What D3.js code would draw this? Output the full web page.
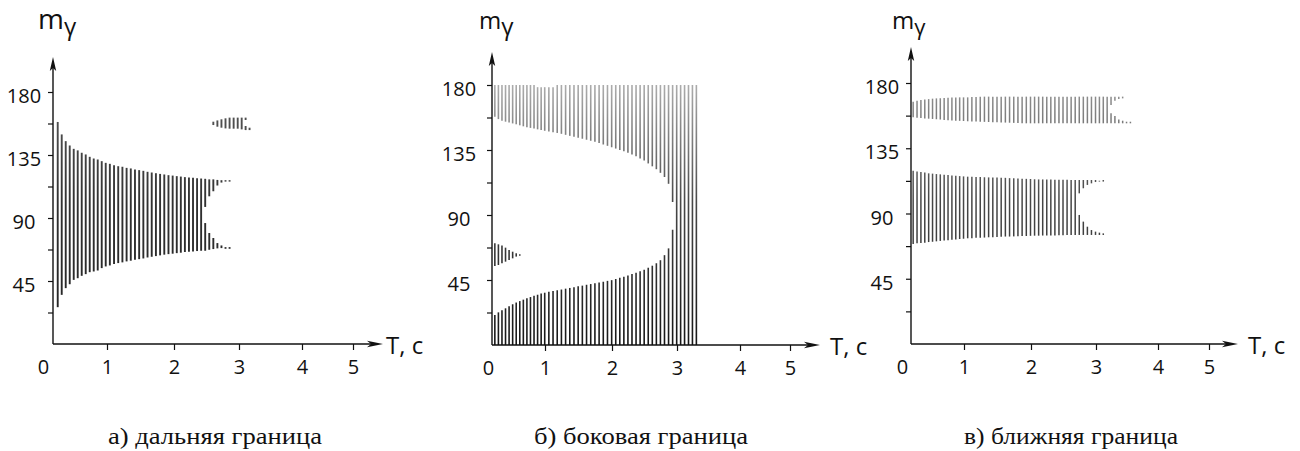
<!DOCTYPE html>
<html>
<head>
<meta charset="utf-8">
<script src="https://cdn.jsdelivr.net/npm/d3@7"></script>
<style>
  html, body { margin: 0; padding: 0; background: #ffffff; }
  svg { display: block; }
</style>
</head>
<body>
<svg id="chart" width="1300" height="451"></svg>
<script>
// ---------------- DATA ----------------
const xTicks = [0, 1, 2, 3, 4, 5];
const yTicks = [22.5, 45, 67.5, 90, 112.5, 135, 157.5, 180];
const yLabels = [45, 90, 135, 180];
const yAxisTitle = ["m", "γ"];
const xAxisTitle = "Т, с";
const captions = ["а) дальняя граница", "б) боковая граница", "в) ближняя граница"];
const dT = 0.0625;            // sampling step of the hatch bars, s

// panel а) — far boundary
const aT0 = 0.23;
const aMainHi = [158.6,149.7,144.9,141.8,139.4,138.3,136.6,135.4,133.7,132.5,131.8,130.6,129.4,128.7,127.7,127.0,126.6,125.8,125.4,124.6,124.2,123.7,123.0,122.5,122.0,121.5,121.1,120.6,120.3,119.9,119.6,119.2,118.9,118.7,118.4,118.2,118.0,117.6,117.6,117.2,117.0,117.0,117.0];
const aMainLo = [26.3,35.1,39.9,42.7,45.8,47.0,48.7,49.9,51.3,51.8,52.5,54.2,55.4,56.1,57.1,57.8,58.3,59.0,59.5,60.2,60.6,61.1,61.8,62.3,62.8,63.3,63.8,64.2,64.5,64.9,65.2,65.7,65.9,66.1,66.4,66.6,66.6,67.3,67.8,68.3,68.5,68.0,68.0];
const aMainGapFrom = 36;
const aMainGapUpper = [97.9,105.5,109.1,113.2,115.3,116.0,116.0];
const aMainGapLower = [86.4,79.3,75.7,72.1,70.4,69.2,69.2];
const aPatchFrom = 38;
const aPatchHi = [158.8,159.7,160.5,161.2,161.7,161.7,161.7,161.7,161.7,154.5];
const aPatchLo = [156.4,155.2,154.5,154.0,153.8,153.8,153.8,153.3,152.8,152.8];
const aPatchGapFrom = 46;
const aPatchGapUpper = [160.0];
const aPatchGapLower = [155.7];

// panel б) — side boundary
const bT0 = 0.12;
const bTopHi = [180,180,180,180,180,180,180,180,180,180,180,180,178.5,178.5,178.5,178.5,178.5,180,180,180,180,180,180,180,180,180,180,180,180,180,180,180,180,180,180,180,180,180,180,180,180,180,180,180,180,180];
const bTopLo = [158.1,156.4,155.3,154.6,154.0,153.4,152.8,152.1,151.4,150.7,150.3,149.8,149.3,148.8,148.3,147.8,147.3,146.8,146.2,145.5,144.8,144.2,143.5,142.8,142.1,141.4,140.7,139.8,138.8,137.9,136.9,136.0,135.0,134.1,133.1,131.9,130.6,129.2,127.8,125.7,123.7,121.7,119.2,116.3,111.6,99.0];
const bBottomHi = [20.8,22.6,24.1,25.4,26.8,28.2,29.4,30.4,31.4,32.4,33.2,34.1,34.8,35.7,36.2,36.8,37.3,37.9,38.4,39.0,39.5,40.0,40.6,41.1,41.7,42.2,42.7,43.3,43.8,44.4,44.9,45.7,46.5,47.3,48.1,49.1,50.1,51.1,52.1,53.5,54.9,56.6,58.7,62.2,66.9,79.8,180,180,180,180,180,180];
const bBottomLo = 0;
const bPatchHi = [70.4,69.7,68.8,67.4,65.8,64.6,63.5,62.8];
const bPatchLo = [54.7,55.4,56.6,57.7,58.9,60.0,61.2,61.8];

// panel в) — near boundary
const cT0 = 0.18;
const cTopHi = [167.1,167.8,168.3,168.7,168.9,169.2,169.4,169.5,169.7,169.9,170.0,170.0,170.1,170.1,170.1,170.3,170.4,170.6,170.6,170.6,170.6,170.6,170.6,170.6,170.6,170.6,170.6,170.6,170.6,170.6,170.6,170.6,170.6,170.6,170.6,170.6,170.6,170.6,170.6,170.6,170.6,170.6,170.6,170.6,170.6,170.6,170.6,170.6,170.6,170.6,170.6,170.6,170.6,153.3,153.3];
const cTopLo = [156.3,156.1,155.9,155.6,155.4,155.2,155.0,154.8,154.5,154.3,154.1,154.0,153.9,153.8,153.6,153.5,153.4,153.3,153.2,153.1,153.0,152.9,152.8,152.7,152.6,152.5,152.4,152.3,152.2,152.2,152.2,152.2,152.2,152.2,152.2,152.2,152.2,152.2,152.2,152.2,152.2,152.2,152.2,152.2,152.2,152.2,152.2,152.2,152.2,152.2,152.2,152.2,152.2,152.2,152.2];
const cTopGapFrom = 49;
const cTopGapUpper = [164.8,167.8,169.0,169.4];
const cTopGapLower = [159.1,157.2,154.9,154.0];
const cBottomHi = [119.5,118.9,118.6,118.2,117.7,117.5,117.2,117.0,116.7,116.5,116.2,116.0,115.8,115.6,115.4,115.3,115.2,115.1,115.0,114.9,114.8,114.8,114.7,114.6,114.4,114.3,114.2,114.0,113.9,113.8,113.6,113.5,113.5,113.4,113.4,113.3,113.3,113.2,113.2,113.1,113.1,113.1,113.1,113.1,113.1,113.1,112.6,113.1];
const cBottomLo = [69.0,69.4,69.7,69.9,70.3,70.5,70.8,71.1,71.4,71.6,71.9,72.1,72.4,72.6,72.9,73.0,73.2,73.3,73.4,73.6,73.7,73.8,74.0,74.1,74.1,74.2,74.3,74.4,74.5,74.6,74.7,74.7,74.8,74.8,74.9,74.9,75.0,75.0,75.1,75.1,75.2,75.2,75.2,75.2,75.2,75.2,75.2,75.2];
const cBottomGapFrom = 41;
const cBottomGapUpper = [103.9,107.4,109.7,110.8,111.7,112.0,112.0];
const cBottomGapLower = [89.0,84.4,80.9,78.6,77.5,76.8,76.3];

// ---------------- LAYOUT ----------------
const panels = [
  { id: "a", t0: aT0, yAxisX: 53, xAxisY: 344, y180: 92, yTip: 57, xTip: 383,
    xRange: [43, 107, 174, 239, 302, 353], labelCx: 24, tX: 386, mX: 38, mSize: 28, gSize: 24,
    capX: 215, sw: 1.9, grad: ["#5a5a5a", "#303030", "#222222"],
    series: [
      { from: 0, hi: aMainHi, lo: aMainLo, gapFrom: aMainGapFrom, gapUpper: aMainGapUpper, gapLower: aMainGapLower },
      { from: aPatchFrom, hi: aPatchHi, lo: aPatchLo, gapFrom: aPatchGapFrom, gapUpper: aPatchGapUpper, gapLower: aPatchGapLower }
    ] },
  { id: "b", t0: bT0, yAxisX: 492, xAxisY: 345, y180: 85, yTip: 52, xTip: 820,
    xRange: [488, 545, 612, 677, 740, 790], labelCx: 459, tX: 830, mX: 479, mSize: 24, gSize: 24,
    capX: 641, sw: 1.6, grad: ["#acacac", "#484848", "#161616"],
    series: [
      { from: 0, hi: bTopHi, lo: bTopLo },
      { from: 0, hi: bBottomHi, lo: bBottomLo },
      { from: 0, hi: bPatchHi, lo: bPatchLo }
    ] },
  { id: "c", t0: cT0, yAxisX: 911, xAxisY: 344, y180: 83, yTip: 47, xTip: 1238,
    xRange: [902, 964, 1031, 1096, 1158, 1209], labelCx: 882, tX: 1248, mX: 892, mSize: 24, gSize: 22,
    capX: 1071, sw: 1.5, grad: ["#959595", "#464646", "#2a2a2a"],
    series: [
      { from: 0, hi: cTopHi, lo: cTopLo, gapFrom: cTopGapFrom, gapUpper: cTopGapUpper, gapLower: cTopGapLower },
      { from: 0, hi: cBottomHi, lo: cBottomLo, gapFrom: cBottomGapFrom, gapUpper: cBottomGapUpper, gapLower: cBottomGapLower }
    ] }
];

const svg = d3.select("#chart");
const defs = svg.append("defs");
const sansFont = "'Open Sans', 'DejaVu Sans', sans-serif";

panels.forEach((p, pi) => {
  const x = d3.scaleLinear().domain(xTicks).range(p.xRange);
  const y = d3.scaleLinear().domain([0, 180]).range([p.xAxisY, p.y180]);

  // vertical shading gradient of the hatch (scan look)
  const gr = defs.append("linearGradient")
    .attr("id", "grad-" + p.id).attr("gradientUnits", "userSpaceOnUse")
    .attr("x1", 0).attr("x2", 0).attr("y1", y(180)).attr("y2", y(0));
  gr.append("stop").attr("offset", "0%").attr("stop-color", p.grad[0]);
  gr.append("stop").attr("offset", "45%").attr("stop-color", p.grad[1]);
  gr.append("stop").attr("offset", "100%").attr("stop-color", p.grad[2]);

  const g = svg.append("g").attr("class", "panel-" + p.id);

  // build hatch segments from the series
  const segs = [];
  p.series.forEach(s => {
    s.hi.forEach((hi, k) => {
      const i = s.from + k;
      const t = p.t0 + i * dT;
      const lo = Array.isArray(s.lo) ? s.lo[k] : s.lo;
      const gi = s.gapFrom !== undefined ? i - s.gapFrom : -1;
      if (gi >= 0 && gi < s.gapUpper.length) {
        segs.push({ t, a: lo, b: s.gapLower[gi] });
        segs.push({ t, a: s.gapUpper[gi], b: hi });
      } else {
        segs.push({ t, a: lo, b: hi });
      }
    });
  });

  g.append("g").selectAll("line").data(segs).join("line")
    .attr("x1", d => x(d.t)).attr("x2", d => x(d.t))
    .attr("y1", d => y(d.a)).attr("y2", d => y(d.b))
    .attr("stroke", "url(#grad-" + p.id + ")")
    .attr("stroke-width", p.sw);

  // y axis ticks + labels
  const yAx = d3.axisLeft(y).tickValues(yTicks).tickSize(5).tickPadding(4)
    .tickFormat(d => yLabels.includes(d) ? String(d) : "");
  g.append("g").attr("transform", `translate(${p.yAxisX},0)`).call(yAx)
    .call(a => a.select(".domain").remove())
    .call(a => a.selectAll(".tick line").attr("stroke", "#111").attr("stroke-width", 1.2))
    .call(a => a.selectAll(".tick text")
      .attr("x", p.labelCx - p.yAxisX).attr("dy", "0.53em")
      .attr("text-anchor", "middle").attr("fill", "#111")
      .style("font-family", sansFont).style("font-size", "20px"));

  // x axis ticks + labels
  const xAx = d3.axisBottom(x).tickValues(xTicks).tickSize(6).tickFormat(d3.format("d"));
  g.append("g").attr("transform", `translate(0,${p.xAxisY})`).call(xAx)
    .call(a => a.select(".domain").remove())
    .call(a => a.selectAll(".tick line").attr("stroke", "#111").attr("stroke-width", 1.2)
      .attr("display", d => d === 0 ? "none" : null))
    .call(a => a.selectAll(".tick text")
      .attr("y", 16).attr("dy", "0.71em").attr("fill", "#111")
      .style("font-family", sansFont).style("font-size", "20px"));

  // axis lines with arrows
  g.append("line").attr("x1", p.yAxisX).attr("x2", p.yAxisX)
    .attr("y1", p.xAxisY).attr("y2", p.yTip + 6)
    .attr("stroke", "#111").attr("stroke-width", 1.4);
  g.append("path")
    .attr("d", `M${p.yAxisX},${p.yTip} L${p.yAxisX - 3.2},${p.yTip + 14} L${p.yAxisX},${p.yTip + 11} L${p.yAxisX + 3.2},${p.yTip + 14} Z`)
    .attr("fill", "#111");
  g.append("line").attr("x1", p.yAxisX).attr("x2", p.xTip - 6)
    .attr("y1", p.xAxisY).attr("y2", p.xAxisY)
    .attr("stroke", "#111").attr("stroke-width", 1.4);
  g.append("path")
    .attr("d", `M${p.xTip},${p.xAxisY} L${p.xTip - 16},${p.xAxisY - 3.2} L${p.xTip - 12},${p.xAxisY} L${p.xTip - 16},${p.xAxisY + 3.2} Z`)
    .attr("fill", "#111");

  // axis titles
  g.append("text").attr("x", p.tX).attr("y", p.xAxisY + 10)
    .attr("fill", "#111").style("font-family", sansFont).style("font-size", "24px")
    .text(xAxisTitle);
  const mt = g.append("text").attr("x", p.mX).attr("y", 29)
    .attr("fill", "#111").style("font-family", sansFont);
  mt.append("tspan").style("font-size", p.mSize + "px").text(yAxisTitle[0]);
  mt.append("tspan").attr("dy", 6).style("font-size", p.gSize + "px").text(yAxisTitle[1]);

  // caption
  svg.append("text").attr("x", p.capX).attr("y", 444)
    .attr("text-anchor", "middle").attr("fill", "#111")
    .attr("textLength", 214).attr("lengthAdjust", "spacingAndGlyphs")
    .style("font-family", "'Liberation Serif', 'Times New Roman', serif").style("font-size", "24px")
    .text(captions[pi]);
});
</script>
</body>
</html>
